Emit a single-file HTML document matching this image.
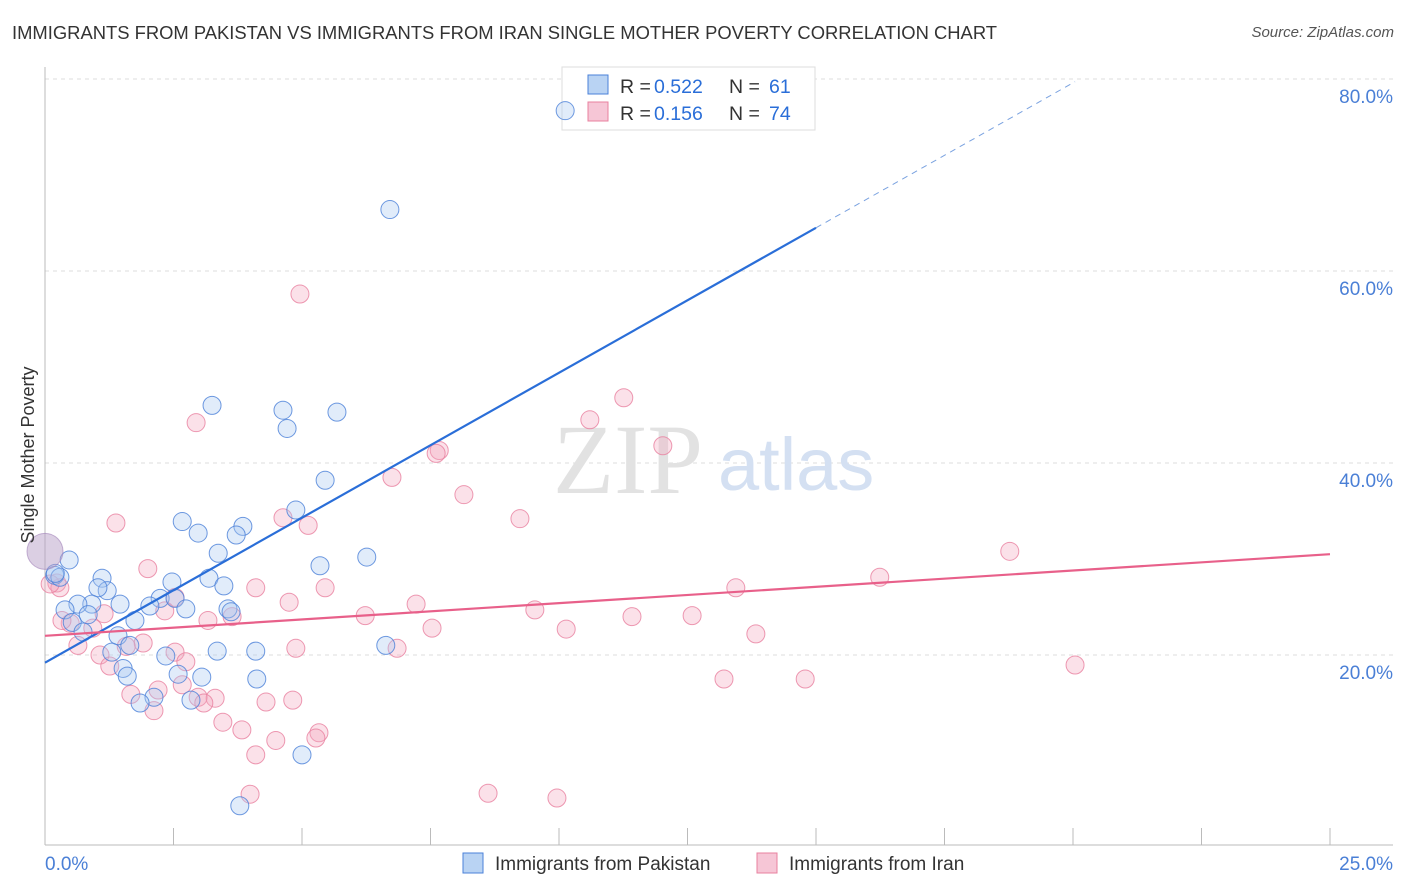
<!DOCTYPE html>
<html><head><meta charset="utf-8">
<style>
body{margin:0;background:#fff;font-family:"Liberation Sans",sans-serif;}
#wrap{position:relative;width:1406px;height:892px;overflow:hidden;}
.title{position:absolute;left:12px;top:22px;font-size:18.4px;color:#333;}
.source{position:absolute;right:12px;top:24px;font-size:15px;color:#555;font-style:italic}
</style></head>
<body>
<div id="wrap">
<div class="title">IMMIGRANTS FROM PAKISTAN VS IMMIGRANTS FROM IRAN SINGLE MOTHER POVERTY CORRELATION CHART</div>
<div class="source">Source: ZipAtlas.com</div>
<svg id="chart" width="1406" height="892" style="position:absolute;left:0;top:0"></svg>
</div>
<script>
const pakX=[10.12,6.71,3.25,4.63,5.68,4.71,5.45,4.88,2.67,3.85,2.98,3.72,3.37,6.26,5.35,0.47,0.19,0.29,1.11,2.47,3.19,3.48,1.21,1.03,2.24,2.53,0.91,1.46,0.64,2.04,2.74,3.56,3.62,0.39,0.84,0.53,1.75,1.42,0.74,1.65,1.30,2.35,3.35,4.10,6.63,1.52,1.60,2.59,3.05,4.12,2.12,1.85,2.84,5.00,3.79,0.2];
const pakY=[76.7,66.4,46.0,45.5,45.3,43.6,38.2,35.1,33.9,33.4,32.7,32.5,30.6,30.2,29.3,29.9,28.3,28.1,28.0,27.6,28.0,27.2,26.7,27.0,25.9,25.9,25.3,25.3,25.3,25.1,24.8,24.8,24.5,24.7,24.2,23.4,23.6,22.0,22.4,21.0,20.3,19.9,20.4,20.4,21.0,18.6,17.8,18.0,17.7,17.5,15.6,15.0,15.3,9.6,4.3,28.5];
const iranX=[4.96,2.94,11.26,10.60,7.67,7.61,12.02,6.75,8.15,9.24,1.38,4.63,5.12,18.77,2.00,16.24,0.23,0.29,4.10,5.45,13.44,2.53,4.75,7.22,9.53,6.23,3.64,11.42,12.59,2.33,1.15,3.17,7.53,10.14,0.49,0.33,0.93,13.83,6.85,4.88,1.91,0.64,1.58,2.53,1.07,2.74,1.26,20.04,13.21,14.79,2.67,2.20,1.67,2.98,3.31,4.30,4.82,3.09,2.12,3.46,3.83,5.33,5.27,4.49,4.10,3.99,8.62,9.96,0.1];
const iranY=[57.6,44.2,46.8,44.5,41.3,41.0,41.8,38.5,36.7,34.2,33.75,34.3,33.5,30.8,29.0,28.1,27.5,27.0,27.0,27.0,27.0,26.0,25.5,25.3,24.7,24.1,24.0,24.0,24.1,24.6,24.3,23.6,22.8,22.7,23.3,23.6,22.8,22.2,20.7,20.7,21.25,21.0,20.9,20.3,20.0,19.3,18.85,18.96,17.5,17.5,16.9,16.35,15.9,15.6,15.5,15.1,15.3,15.0,14.2,13.0,12.2,11.9,11.35,11.1,9.6,5.5,5.6,5.1,27.4];
const xTicks=[0,2.5,5,7.5,10,12.5,15,17.5,20,22.5,25];
const yTicks=[20,40,60,80];
const yTickLabels=["20.0%","40.0%","60.0%","80.0%"];
const pakTrend=[19.2,3.02];
const iranTrend=[22.0,0.34];

const X0=45,X1=1330,Y0=847,PX=9.6;
const sx=v=>X0+(X1-X0)*v/25;
const sy=v=>Y0-v*PX;
const svg=document.getElementById('chart');
const NS='http://www.w3.org/2000/svg';
function mk(t,a,p){const e=document.createElementNS(NS,t);for(const k in a)e.setAttribute(k,a[k]);(p||svg).appendChild(e);return e;}

yTicks.forEach((v,i)=>{
 const g=mk('line',{x1:X0,x2:1393,y1:sy(v),y2:sy(v),stroke:'#ddd','stroke-dasharray':'4,4'});
 
 
 const t=mk('text',{x:1393,y:sy(v)+24,'text-anchor':'end','font-size':19,fill:'#4a7fd6','font-family':'Liberation Sans'});
 t.textContent=yTickLabels[i];
 
 
});
const ax=mk('line',{x1:X0,x2:1393,y1:845,y2:845,stroke:'#bbb'});


const ay=mk('line',{x1:X0,x2:X0,y1:67,y2:845,stroke:'#bbb'});


xTicks.forEach(v=>{const t=mk('line',{x1:sx(v),x2:sx(v),y1:828,y2:845,stroke:'#bbb'});
 
 });

const wm=mk('text',{x:553,y:493,'font-size':100,fill:'#e2e2e2','font-family':'Liberation Serif'});
wm.textContent='ZIP';


const wm2=mk('text',{x:718,y:490,'font-size':74,fill:'#d4e0f2','font-family':'Liberation Sans'});
wm2.textContent='atlas';



// top legend (drawn before points)
const lg=mk('rect',{x:562,y:67,width:253,height:63,fill:'#fff',stroke:'#ddd'});


[[0,'#a8c8f0','#4a80d8','0.522','61'],[1,'#f4b8cc','#e8809f','0.156','74']].forEach(r=>{
 const y=75+r[0]*27;
 const s=mk('rect',{x:588,y:y,width:20,height:19,fill:r[1],stroke:r[2],'fill-opacity':0.8});
 
 
 const parts=[[620,'R =','#333'],[654,r[3],'#2a6ed8'],[729,'N =','#333'],[769,r[4],'#2a6ed8']];
 parts.forEach(p=>{
  const t=mk('text',{x:p[0],y:y+18,'font-size':19.5,fill:p[2],'font-family':'Liberation Sans'});
  t.textContent=p[1];
  
  
 });
});

function pts(xs,ys,fill,stroke,name){xs.forEach((x,i)=>{
 const c=mk('circle',{cx:sx(x),cy:sy(ys[i]),r:9,fill:fill,'fill-opacity':0.35,stroke:stroke,'stroke-opacity':0.8,'stroke-width':1});
 
 });}
pts(iranX,iranY,'#f4a8c0','#e8809f','iran-point');
pts(pakX,pakY,'#a8c8f0','#4a80d8','pakistan-point');
const big=mk('circle',{cx:sx(0),cy:sy(30.8),r:18,fill:'#b8a0c8','fill-opacity':0.5,stroke:'#a080b8','stroke-opacity':0.6});



const pl=mk('line',{x1:sx(0),y1:sy(pakTrend[0]),x2:sx(15),y2:sy(pakTrend[0]+15*pakTrend[1]),stroke:'#2a6ed8','stroke-width':2.2});


const pd=mk('line',{x1:sx(15),y1:sy(pakTrend[0]+15*pakTrend[1]),x2:sx(20.04),y2:sy(pakTrend[0]+20.04*pakTrend[1]),stroke:'#7aa2e0','stroke-width':1,'stroke-dasharray':'6,5'});


const il=mk('line',{x1:sx(0),y1:sy(iranTrend[0]),x2:sx(25),y2:sy(iranTrend[0]+25*iranTrend[1]),stroke:'#e8608a','stroke-width':2.2});



const xl=mk('text',{x:45,y:870,'font-size':19,fill:'#4a7fd6','font-family':'Liberation Sans'});xl.textContent='0.0%';


const xr=mk('text',{x:1393,y:870,'text-anchor':'end','font-size':19,fill:'#4a7fd6','font-family':'Liberation Sans'});xr.textContent='25.0%';


const yt=mk('text',{x:34,y:455,'font-size':18,fill:'#333','font-family':'Liberation Sans','text-anchor':'middle',transform:'rotate(-90 34 455)'});yt.textContent='Single Mother Poverty';



[[463,'#a8c8f0','#4a80d8','Immigrants from Pakistan'],[757,'#f4b8cc','#e8809f','Immigrants from Iran']].forEach(r=>{
 const s=mk('rect',{x:r[0],y:853,width:20,height:20,fill:r[1],stroke:r[2],'fill-opacity':0.8});
 
 
 const t=mk('text',{x:r[0]+32,y:870,'font-size':19,fill:'#333','font-family':'Liberation Sans'});
 t.textContent=r[3];
 
 
});
</script>
</body></html>
